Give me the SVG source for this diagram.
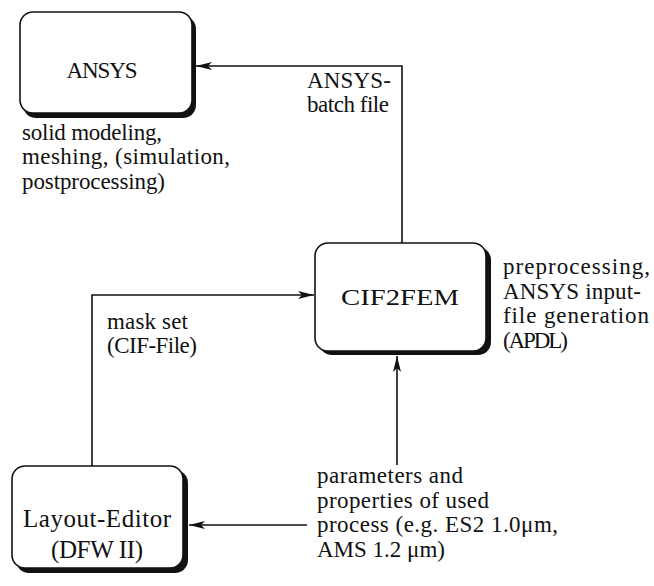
<svg xmlns="http://www.w3.org/2000/svg" width="654" height="586" viewBox="0 0 654 586">
<style>
text{font-family:'Liberation Serif','DejaVu Serif','Times New Roman',Times,serif;font-size:23px;fill:#111}
.big{font-size:25px}
.box{fill:#fff;stroke:#111;stroke-width:1.6}
.sh{fill:#111}
.ln{fill:none;stroke:#111;stroke-width:1.6}
.c{text-anchor:middle}
</style>
<defs>
<marker id="ah" viewBox="0 0 16 8" refX="16" refY="4" markerWidth="16" markerHeight="8" markerUnits="userSpaceOnUse" orient="auto">
<path d="M0,0 L16,4 L0,8 L4,4 Z" fill="#111"/>
</marker>
</defs>
<g id="connectors">
<path class="ln" d="M402,243 V66 H196" marker-end="url(#ah)"/>
<path class="ln" d="M92,466 V295 H314" marker-end="url(#ah)"/>
<path class="ln" d="M397,465 V356" marker-end="url(#ah)"/>
<path class="ln" d="M307,525 H189" marker-end="url(#ah)"/>
</g>
<g id="ansys">
<rect class="sh" x="23" y="16" width="173" height="102" rx="13"/>
<rect class="box" x="20" y="12" width="172" height="101" rx="13"/>
<text class="c" x="102" y="78" textLength="71">ANSYS</text>
</g>
<g id="cif2fem">
<rect class="sh" x="319" y="247" width="172" height="108" rx="13"/>
<rect class="box" x="315" y="243" width="171" height="108" rx="13"/>
<text class="c" x="400" y="305" font-size="28" textLength="118" lengthAdjust="spacingAndGlyphs">CIF2FEM</text>
</g>
<g id="layout-editor">
<rect class="sh" x="16" y="470" width="172" height="103" rx="13"/>
<rect class="box" x="12" y="466" width="171" height="102" rx="13"/>
<text class="c big" x="97" y="527" textLength="148">Layout-Editor</text>
<text class="c big" x="97" y="558" textLength="92">(DFW II)</text>
</g>
<g id="labels">
<text x="307" y="88" textLength="84">ANSYS-</text>
<text x="307" y="112" textLength="82">batch file</text>
<text x="22" y="140" textLength="140">solid modeling,</text>
<text x="22" y="164" textLength="208">meshing, (simulation,</text>
<text x="22" y="189" textLength="143">postprocessing)</text>
<text x="503" y="274" textLength="147">preprocessing,</text>
<text x="503" y="299" textLength="138">ANSYS input-</text>
<text x="503" y="323" textLength="146">file generation</text>
<text x="503" y="348" textLength="65">(APDL)</text>
<text x="107" y="329" textLength="81">mask set</text>
<text x="107" y="353" textLength="90">(CIF-File)</text>
<text x="317" y="483" textLength="146">parameters and</text>
<text x="317" y="508" textLength="172">properties of used</text>
<text x="317" y="532" textLength="241">process (e.g. ES2 1.0μm,</text>
<text x="317" y="557">AMS 1.2 μm)</text>
</g>
</svg>
